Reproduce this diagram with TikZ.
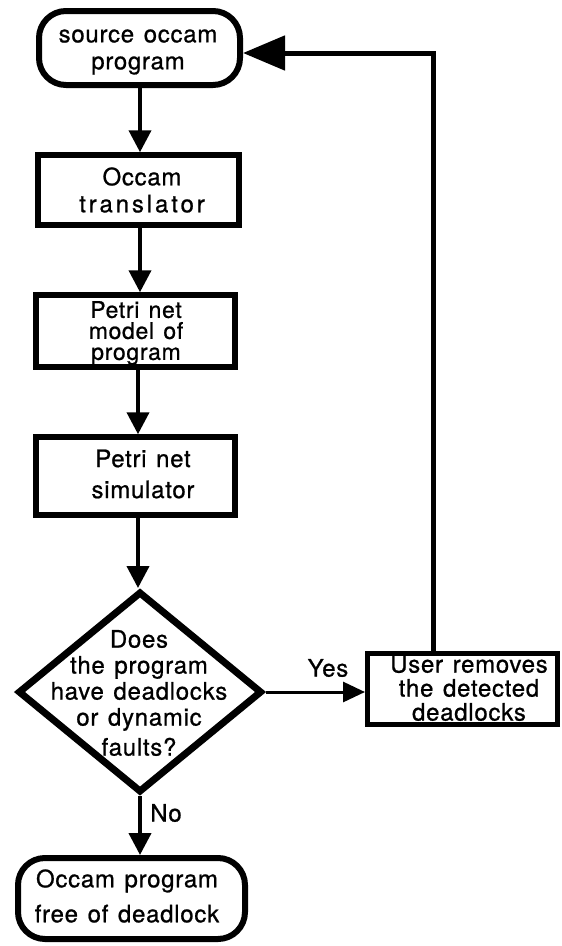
\documentclass[tikz,border=0pt]{standalone}
\usepackage{fontspec}
\setmainfont{TeX Gyre Heros}[LetterSpace=3, WordSpace=1.3, FakeBold=0.8]
\usetikzlibrary{arrows.meta,shapes.geometric}

\begin{document}
\begin{tikzpicture}[x=1pt,y=-1pt,
  lbl/.style={font=\fontsize{24}{27}\selectfont, align=center, inner sep=0pt},
  term/.style={draw, line width=6pt, rounded corners=27pt, inner sep=0pt},
  proc/.style={draw, line width=5.5pt, inner sep=0pt},
  decision/.style={draw, diamond, line width=7pt, inner sep=0pt,
    minimum width=244pt, minimum height=201pt},
  flow/.style={line width=4pt, -{Triangle[length=22pt,width=22pt]}},
  back/.style={line width=5pt, -{Triangle[length=42pt,width=34pt]}},
  yesflow/.style={line width=3pt, -{Triangle[length=22pt,width=20pt]}}
]
\useasboundingbox (0,0) rectangle (562,946);

% process boxes
\node[term, minimum width=201pt, minimum height=74pt] (src) at (139.5,48) {};
\node[lbl] (srct) at (138,52) {source occam\\program};

\node[proc, minimum width=201pt, minimum height=70pt] (trans) at (138.5,190) {};
\node[lbl] (transt) at (142,190) {Occam\\\addfontfeature{LetterSpace=12}translator};

\node[proc, minimum width=199pt, minimum height=72pt] (model) at (135.5,331) {};
\node[lbl, font=\fontsize{23}{21}\selectfont] (modelt) at (136,333) {Petri net\\model of\\program};

\node[proc, minimum width=199pt, minimum height=78pt] (sim) at (135.5,476) {};
\node[lbl, font=\fontsize{24}{31}\selectfont] (simt) at (143,474) {Petri net\\simulator};

% decision
\node[decision] (dec) at (140,692) {};
\node[lbl, font=\fontsize{24}{26}\selectfont] (dect) at (139,693) {Does\\the program\\have deadlocks\\or dynamic\\[4pt]faults?};

\node[proc, line width=5pt, minimum width=190pt, minimum height=71pt] (user) at (462.5,689) {};
\node[lbl, font=\fontsize{24}{24}\selectfont] (usert) at (469,688) {User removes\\the detected\\deadlocks};

\node[term, minimum width=227pt, minimum height=81pt] (done) at (131.5,898.5) {};
\node[lbl, font=\fontsize{24}{35}\selectfont] (donet) at (127,896) {Occam program\\free of deadlock};

% connectors
\draw[flow] (src.south -| 140,0) -- (trans.north -| 140,0);
\draw[flow] (trans.south -| 140,0) -- (model.north -| 140,0);
\draw[flow] (model.south -| 138,0) -- (sim.north -| 138,0);
\draw[flow] (sim.south -| 138,0) -- (dec.north -| 138,0);
\draw[yesflow] (dec.east) -- (dec.east -| user.west);
\node[lbl] (yes) at (328,668) {Yes};
\draw[flow] (dec.south) -- (done.north -| dec.south);
\node[lbl] (no) at (166,813) {No};

\coordinate (turn) at (433,53);
\draw[back] (user.north -| turn) -- (turn) -- (src.east |- turn);
\end{tikzpicture}
\end{document}
